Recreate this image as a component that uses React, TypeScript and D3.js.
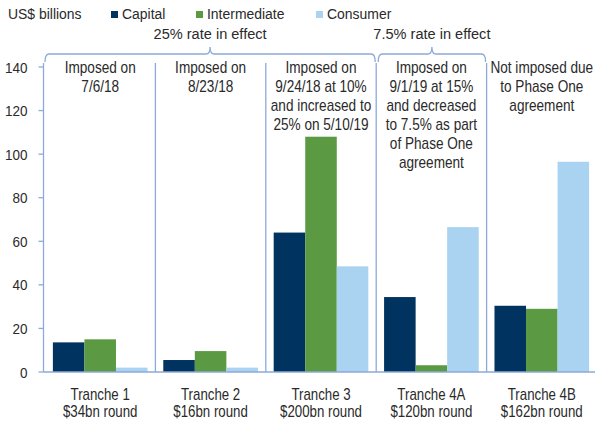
import React from "react";
import * as d3 from "d3";

const categories = ["Tranche 1", "Tranche 2", "Tranche 3", "Tranche 4A", "Tranche 4B"];
const subLabels = ["$34bn round", "$16bn round", "$200bn round", "$120bn round", "$162bn round"];
const seriesNames = ["Capital", "Intermediate", "Consumer"];
const capital = [13.6, 5.5, 64, 34.4, 30.4];
const intermediate = [15.0, 9.6, 108, 3.1, 29.0];
const consumer = [2.0, 2.0, 48.5, 66.5, 96.5];
const notes = [
  ["Imposed on", "7/6/18"],
  ["Imposed on", "8/23/18"],
  ["Imposed on", "9/24/18 at 10%", "and increased to", "25% on 5/10/19"],
  ["Imposed on", "9/1/19 at 15%", "and decreased", "to 7.5% as part", "of Phase One", "agreement"],
  ["Not imposed due", "to Phase One", "agreement"],
];
const braces = [
  { label: "25% rate in effect", from: 0, to: 2 },
  { label: "7.5% rate in effect", from: 3, to: 3 },
];
const yTicks = [0, 20, 40, 60, 80, 100, 120, 140];
const colors = ["#00335F", "#5B9942", "#A9D3F0"];

const W = 595, H = 421;
const FONT = "'Liberation Sans', Arial, sans-serif";
const TXT = "#2a2a2a";
const AXIS = "#8DAAD8";

function T({ x, y, size, sx = 0.83, anchor = "start", children }: { x: number; y: number; size: number; sx?: number; anchor?: string; children: React.ReactNode }) {
  return (
    <text transform={`translate(${x},${y}) scale(${sx},1)`} fontSize={size} textAnchor={anchor} fill={TXT}>
      {children}
    </text>
  );
}

export default function App() {
  const values = [capital, intermediate, consumer];
  const x0 = d3.scaleBand<string>().domain(categories).range([45, 597]).padding(0);
  const x1 = d3.scaleBand<string>().domain(seriesNames).range([0, x0.bandwidth()]).paddingInner(0).paddingOuter(0.25);
  const y = d3.scaleLinear().domain([0, 140]).range([372, 67]);
  const axisX = 43.5;
  const braceY = 54;

  const bracePath = (a: number, b: number) => {
    const p = (a + b) / 2;
    const r = 4;
    return `M${a},${braceY + 8} Q${a},${braceY} ${a + r},${braceY} H${p - r} Q${p},${braceY} ${p},${braceY - 7} Q${p},${braceY} ${p + r},${braceY} H${b - r} Q${b},${braceY} ${b},${braceY + 8}`;
  };

  return (
    <svg width={W} height={H} style={{ position: "absolute", left: 0, top: 0, background: "#fff" }} fontFamily={FONT}>
      {/* legend */}
      <T x={8} y={19} size={15} sx={0.93}>US$ billions</T>
      {seriesNames.map((s, i) => {
        const lx = [111, 196, 316][i];
        return (
          <g key={s}>
            <rect x={lx} y={11} width={7} height={7} fill={colors[i]} />
            <T x={lx + 11} y={19} size={15} sx={0.93}>{s}</T>
          </g>
        );
      })}

      {/* braces */}
      {braces.map((b) => {
        const a = x0(categories[b.from])! + (b.from === 0 ? 0 : 2);
        const e = x0(categories[b.to])! + x0.bandwidth() - 1;
        return (
          <g key={b.label}>
            <path d={bracePath(a, e)} fill="none" stroke={AXIS} strokeWidth={1.3} />
            <T x={(a + e) / 2} y={38.5} size={15.5} sx={0.94} anchor="middle">{b.label}</T>
          </g>
        );
      })}

      {/* dividers */}
      {categories.slice(1).map((c) => (
        <line key={c} x1={x0(c)!} x2={x0(c)!} y1={63} y2={y(0)} stroke={AXIS} strokeWidth={1.3} />
      ))}

      {/* bars */}
      {categories.map((c, ci) => (
        <g key={c} transform={`translate(${x0(c)},0)`}>
          {seriesNames.map((s, si) => (
            <rect key={s} x={x1(s)!} width={x1.bandwidth()} y={y(values[si][ci])} height={y(0) - y(values[si][ci])} fill={colors[si]} />
          ))}
        </g>
      ))}

      {/* y axis */}
      <line x1={axisX} x2={axisX} y1={y(140) - 4} y2={y(0)} stroke={AXIS} strokeWidth={1.3} />
      <line x1={axisX} x2={597} y1={y(0)} y2={y(0)} stroke={AXIS} strokeWidth={1.5} />
      {yTicks.map((t) => (
        <g key={t}>
          <line x1={axisX - 5} x2={axisX} y1={y(t)} y2={y(t)} stroke={AXIS} strokeWidth={1.3} />
          <T x={27.5} y={y(t) + 5.5} size={15} sx={0.9} anchor="end">{t}</T>
        </g>
      ))}

      {/* notes */}
      {notes.map((lines, ci) => (
        <g key={ci}>
          {lines.map((l, li) => (
            <T key={li} x={x0(categories[ci])! + x0.bandwidth() / 2} y={72.5 + li * 19} size={16} sx={0.85} anchor="middle">{l}</T>
          ))}
        </g>
      ))}

      {/* category labels */}
      {categories.map((c, ci) => (
        <g key={c}>
          <T x={x0(c)! + x0.bandwidth() / 2} y={399.5} size={16} anchor="middle">{c}</T>
          <T x={x0(c)! + x0.bandwidth() / 2} y={417} size={16} anchor="middle">{subLabels[ci]}</T>
        </g>
      ))}
    </svg>
  );
}
